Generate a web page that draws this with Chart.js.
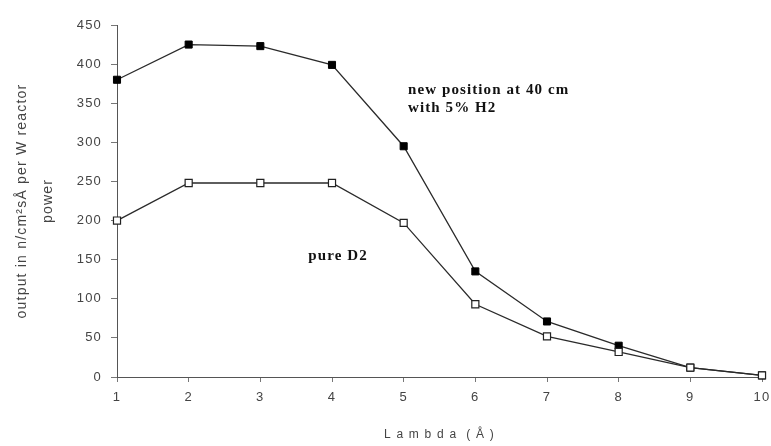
<!DOCTYPE html>
<html>
<head>
<meta charset="utf-8">
<script src="https://cdn.jsdelivr.net/npm/chart.js@4.4.1/dist/chart.umd.min.js"></script>
<style>
  html, body { margin: 0; padding: 0; background: #fff; }
  #wrap { width: 771px; height: 446px; position: relative; }
</style>
</head>
<body>
<div id="wrap"><canvas id="chart"></canvas></div>
<script>
// Wavelength (Å)
const lambdas = [1, 2, 3, 4, 5, 6, 7, 8, 9, 10];

// output in n/cm²sÅ per W reactor power
const newPosition = [380, 425, 423, 399, 295, 135, 71, 40, 12, 2];
const pureD2 = [200, 248, 248, 248, 197, 93, 52, 32, 12, 2];

const yTicks = [0, 50, 100, 150, 200, 250, 300, 350, 400, 450];

// Text labels placed next to the curves (data coordinates)
const notes = [
  { x: 5.06, y: 367, lines: ['new position at 40 cm', 'with 5% H2'] },
  { x: 3.67, y: 155, lines: ['pure D2'] },
];

const toPoints = vals => vals.map((v, i) => ({ x: lambdas[i], y: v }));

// scanned-looking, slightly spaced lettering for all text
const spacing = {
  id: 'spacing',
  beforeDraw(chart) { chart.ctx.letterSpacing = '1.2px'; }
};

const noteLabels = {
  id: 'noteLabels',
  afterDatasetsDraw(chart) {
    const { ctx, scales } = chart;
    ctx.save();
    ctx.letterSpacing = '1.1px';
    ctx.fillStyle = '#111';
    ctx.font = "bold 15px 'Liberation Serif', serif";
    ctx.textBaseline = 'middle';
    notes.forEach(n => {
      const px = scales.x.getPixelForValue(n.x);
      const py = scales.y.getPixelForValue(n.y);
      n.lines.forEach((t, i) => ctx.fillText(t, px, py + i * 18));
    });
    ctx.restore();
  }
};

const axisColor = '#555';
const tickFont = { family: "'Liberation Sans', Arial, sans-serif", size: 13 };

new Chart(document.getElementById('chart').getContext('2d'), {
  type: 'line',
  data: {
    datasets: [
      {
        label: 'new position at 40 cm with 5% H2',
        data: toPoints(newPosition),
        order: 1,
        borderColor: '#2a2a2a',
        borderWidth: 1.3,
        backgroundColor: '#000',
        pointStyle: 'rect',
        pointRadius: 5,
        pointBorderColor: '#000',
        pointBackgroundColor: '#000',
        pointBorderWidth: 1,
        tension: 0,
        clip: false,
      },
      {
        label: 'pure D2',
        data: toPoints(pureD2),
        order: 0,
        borderColor: '#2a2a2a',
        borderWidth: 1.3,
        backgroundColor: '#fff',
        pointStyle: 'rect',
        pointRadius: 5,
        pointBorderColor: '#222',
        pointBackgroundColor: '#fff',
        pointBorderWidth: 1.2,
        tension: 0,
        clip: false,
      },
    ],
  },
  options: {
    responsive: true,
    maintainAspectRatio: false,
    animation: false,
    layout: { padding: { left: 10, right: 9, top: 25, bottom: 0 } },
    plugins: {
      legend: { display: false },
      tooltip: { enabled: false },
    },
    scales: {
      x: {
        type: 'linear',
        min: 1,
        max: 10,
        afterBuildTicks: s => { s.ticks = lambdas.map(v => ({ value: v })); },
        afterFit: s => { s.height = 69; s.paddingRight = 0; },
        border: { color: axisColor, width: 1 },
        grid: { drawOnChartArea: false, tickLength: 5, color: '#777' },
        ticks: { color: '#444', font: tickFont, padding: 8 },
        title: {
          display: true,
          text: 'L a m b d a  ( Å )',
          color: '#444',
          font: { family: "'Liberation Sans', Arial, sans-serif", size: 12 },
          padding: { top: 22 },
        },
      },
      y: {
        min: 0,
        max: 450,
        afterBuildTicks: s => { s.ticks = yTicks.map(v => ({ value: v })); },
        afterFit: s => { s.width = 107; },
        border: { color: axisColor, width: 1 },
        grid: { drawOnChartArea: false, tickLength: 6, color: '#777' },
        ticks: { color: '#444', font: tickFont, padding: 9 },
        title: {
          display: true,
          text: ['output in n/cm²sÅ per W reactor', 'power'],
          color: '#444',
          font: { family: "'Liberation Sans', Arial, sans-serif", size: 14, lineHeight: 1.8 },
          padding: { top: 0, bottom: 0 },
        },
      },
    },
  },
  plugins: [spacing, noteLabels],
});
</script>
</body>
</html>
